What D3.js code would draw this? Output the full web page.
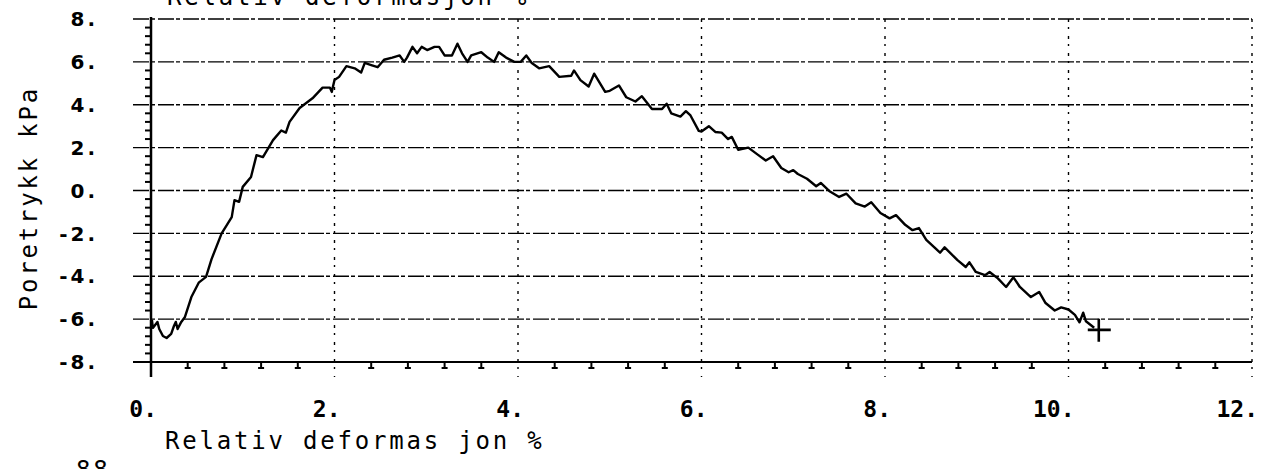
<!DOCTYPE html>
<html>
<head>
<meta charset="utf-8">
<script src="https://cdn.jsdelivr.net/npm/d3@7"></script>
<style>
  body { margin: 0; background: #fff; }
  svg { display: block; }
  .title { font-family: "DejaVu Sans Mono", monospace; font-size: 24px; letter-spacing: 2.8px; fill: #000; }
  .xlab { font-family: "DejaVu Sans Mono", monospace; font-size: 23px; font-weight: bold; fill: #000; }
  .ylab { font-family: "DejaVu Sans", sans-serif; font-size: 20px; font-weight: bold; letter-spacing: 3px; fill: #000; }
</style>
</head>
<body>
<div id="chart"></div>
<script>
// relativ deformasjon (%) and poretrykk (kPa)
var deformation = [0.01,0.02,0.07,0.09,0.13,0.17,0.22,0.25,0.27,0.29,0.33,0.37,0.44,0.52,0.6,0.66,0.77,0.88,0.91,0.96,
  1.0,1.09,1.15,1.22,1.33,1.42,1.47,1.51,1.62,1.76,1.87,1.95,1.97,2.0,2.05,2.13,2.22,2.29,2.33,2.4,
  2.47,2.54,2.63,2.71,2.76,2.79,2.85,2.9,2.95,3.01,3.09,3.14,3.2,3.28,3.34,3.39,3.45,3.49,3.6,3.67,
  3.74,3.79,3.87,3.96,4.03,4.09,4.15,4.23,4.34,4.45,4.58,4.61,4.68,4.77,4.83,4.95,5.0,5.1,5.18,5.28,
  5.35,5.46,5.57,5.62,5.67,5.77,5.83,5.88,5.97,6.0,6.08,6.15,6.22,6.29,6.33,6.4,6.51,6.62,6.7,6.78,
  6.87,6.95,7.0,7.05,7.15,7.25,7.3,7.4,7.5,7.58,7.68,7.78,7.85,7.95,8.05,8.12,8.22,8.3,8.37,8.45,
  8.6,8.65,8.79,8.88,8.92,8.99,9.09,9.14,9.23,9.32,9.4,9.47,9.59,9.68,9.75,9.85,9.92,10.0,10.07,10.12,
  10.16,10.19,10.28];
var porePressure = [-6.04,-6.41,-6.13,-6.46,-6.79,-6.88,-6.69,-6.32,-6.13,-6.46,-6.13,-5.9,-4.97,-4.3,-4.03,-3.2,-2.0,-1.24,-0.45,-0.53,
  0.17,0.63,1.65,1.56,2.35,2.8,2.7,3.2,3.85,4.3,4.8,4.8,4.6,5.15,5.3,5.8,5.7,5.5,5.95,5.85,
  5.75,6.1,6.2,6.3,6.0,6.2,6.7,6.4,6.7,6.55,6.7,6.7,6.3,6.3,6.85,6.4,6.0,6.3,6.45,6.2,
  6.0,6.45,6.2,6.0,6.0,6.3,5.95,5.7,5.8,5.3,5.35,5.6,5.15,4.85,5.45,4.6,4.65,4.9,4.35,4.15,
  4.4,3.8,3.8,4.05,3.6,3.45,3.7,3.5,2.78,2.75,3.0,2.73,2.7,2.4,2.5,1.9,2.0,1.65,1.4,1.6,
  1.05,0.85,0.95,0.77,0.55,0.2,0.35,-0.05,-0.3,-0.15,-0.6,-0.75,-0.55,-1.05,-1.3,-1.15,-1.6,-1.85,-1.75,-2.3,
  -2.9,-2.65,-3.25,-3.57,-3.35,-3.8,-3.95,-3.8,-4.1,-4.5,-4.05,-4.5,-4.97,-4.73,-5.25,-5.6,-5.45,-5.55,-5.8,-6.15,
  -5.7,-6.1,-6.4];
var endPoint = [10.33, -6.5];

var xTicks = [0, 2, 4, 6, 8, 10, 12];
var yTicks = [-8, -6, -4, -2, 0, 2, 4, 6, 8];
var xTitle = "Relativ deformas jon %";
var topTitle = "Relativ deformasjon %";
var yTitle = "Poretrykk kPa";

var width = 1274, height = 469;
var plotLeft = 151, plotRight = 1252, plotTop = 19, plotBottom = 362;

var x = d3.scaleLinear().domain([0, 12]).range([plotLeft, plotRight]);
var y = d3.scaleLinear().domain([-8, 8]).range([plotBottom, plotTop]);

var svg = d3.select('#chart').append('svg')
    .attr('width', width)
    .attr('height', height);

svg.append('rect').attr('width', width).attr('height', height).attr('fill', '#fff');

// grid (plotter style dash-dot)
svg.append('g').selectAll('line')
    .data(yTicks.slice(1))
    .join('line')
    .attr('x1', plotLeft - 18).attr('x2', plotRight)
    .attr('y1', d => y(d)).attr('y2', d => y(d))
    .attr('stroke', '#000')
    .attr('stroke-width', 1.4)
    .attr('stroke-dasharray', '16,2,4,3');

svg.append('g').selectAll('line')
    .data(xTicks.slice(1))
    .join('line')
    .attr('x1', d => x(d)).attr('x2', d => x(d))
    .attr('y1', plotTop).attr('y2', plotBottom + 15)
    .attr('stroke', '#000')
    .attr('stroke-width', 1.4)
    .attr('stroke-dasharray', '3,5,2,7');

// solid axes
svg.append('line')
    .attr('x1', plotLeft).attr('x2', plotLeft)
    .attr('y1', plotTop - 2).attr('y2', plotBottom + 15)
    .attr('stroke', '#000').attr('stroke-width', 2.5);
svg.append('line')
    .attr('x1', plotLeft - 18).attr('x2', plotRight)
    .attr('y1', plotBottom).attr('y2', plotBottom)
    .attr('stroke', '#000').attr('stroke-width', 2.2);

// minor ticks every 0.4
var minorX = d3.range(0, 12.001, 0.4).filter(d => Math.abs(d / 2 - Math.round(d / 2)) > 0.01);
var minorY = d3.range(-8, 8.001, 0.4).filter(d => Math.abs(d / 2 - Math.round(d / 2)) > 0.01);

svg.append('g').selectAll('path')
    .data(minorX)
    .join('path')
    .attr('d', d => `M${x(d)},${plotBottom}V${plotBottom + 7}M${x(d) - 3},${plotBottom + 6}H${x(d) + 3}`)
    .attr('stroke', '#000').attr('stroke-width', 2).attr('fill', 'none');

svg.append('g').selectAll('line')
    .data(minorY)
    .join('line')
    .attr('x1', plotLeft - 6).attr('x2', plotLeft)
    .attr('y1', d => y(d)).attr('y2', d => y(d))
    .attr('stroke', '#000').attr('stroke-width', 2);

// tick labels
svg.append('g').selectAll('text')
    .data(xTicks)
    .join('text')
    .attr('class', 'xlab')
    .attr('x', d => x(d) + 6)
    .attr('y', 417)
    .attr('text-anchor', 'end')
    .text(d => d + '.');

svg.append('g').selectAll('text')
    .data(yTicks)
    .join('text')
    .attr('class', 'ylab')
    .attr('x', 98)
    .attr('y', d => y(d))
    .attr('dy', '0.36em')
    .attr('text-anchor', 'end')
    .text(d => d + '.');

// titles
svg.append('text').attr('class', 'title')
    .attr('x', 165).attr('y', 449)
    .text(xTitle);
svg.append('text').attr('class', 'title')
    .attr('x', 167).attr('y', 5)
    .text(topTitle);
svg.append('text').attr('class', 'title')
    .attr('x', 76).attr('y', 478)
    .text('88');
svg.append('text').attr('class', 'title')
    .attr('transform', 'translate(37,198) rotate(-90)')
    .attr('text-anchor', 'middle')
    .text(yTitle);

// curve
var pts = deformation.map((d, i) => [d, porePressure[i]]);
var line = d3.line().x(d => x(d[0])).y(d => y(d[1]));

svg.append('path')
    .datum(pts)
    .attr('d', line)
    .attr('fill', 'none')
    .attr('stroke', '#000')
    .attr('stroke-width', 2.4)
    .attr('stroke-linejoin', 'round');

// end marker
var ex = x(endPoint[0]), ey = y(endPoint[1]);
svg.append('path')
    .attr('d', `M${ex - 11},${ey}H${ex + 12}M${ex},${ey - 11}V${ey + 12}`)
    .attr('stroke', '#000').attr('stroke-width', 2.6);
</script>
</body>
</html>
